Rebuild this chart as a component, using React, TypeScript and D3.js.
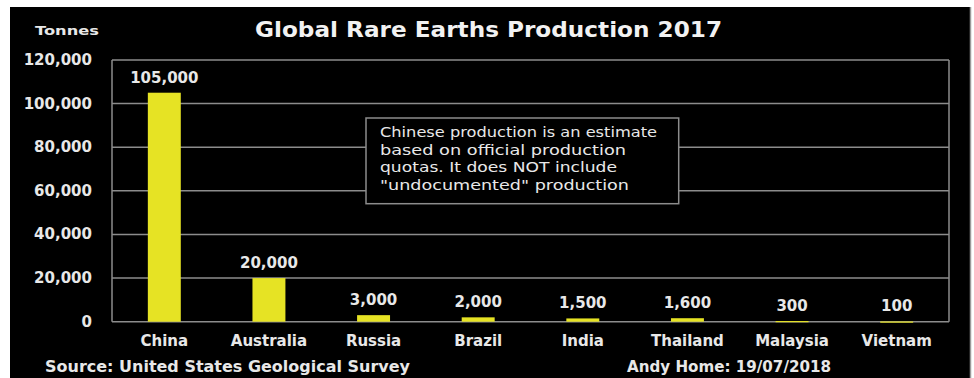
import React from "react";
import * as d3 from "d3";

const categories = ["China", "Australia", "Russia", "Brazil", "India", "Thailand", "Malaysia", "Vietnam"];
const values = [105000, 20000, 3000, 2000, 1500, 1600, 300, 100];
const valueLabels = ["105,000", "20,000", "3,000", "2,000", "1,500", "1,600", "300", "100"];
const yTicks = [0, 20000, 40000, 60000, 80000, 100000, 120000];
const noteLines = [
  "Chinese production is an estimate",
  "based on official production",
  "quotas. It does NOT include",
  "\"undocumented\" production",
];
const noteWidths = [277, 246, 237, 249];

const W = 974;
const H = 378;
const plot = { left: 112, right: 949, top: 60, bottom: 321.7 };
const font = "'DejaVu Sans', Verdana, sans-serif";

export default function App() {
  const x = d3
    .scaleBand<string>()
    .domain(categories)
    .range([plot.left, plot.right])
    .paddingInner(0.685)
    .paddingOuter(0.3425);
  const y = d3.scaleLinear().domain([0, 120000]).range([plot.bottom, plot.top]);
  const fmt = d3.format(",");

  return (
    <svg
      width={W}
      height={H}
      style={{ position: "absolute", left: 0, top: 0, background: "#fff" }}
      fontFamily={font}
    >
      <rect x={10} y={7} width={960} height={371} fill="#000" />
      <line x1={970.5} x2={970.5} y1={7} y2={378} stroke="#9a9a9a" strokeWidth={1.5} />

      <text x={35} y={35} fill="#e8e8e8" fontWeight="bold" fontSize={13} textLength={64} lengthAdjust="spacingAndGlyphs">
        Tonnes
      </text>
      <text x={255} y={37} fill="#f2f2f2" fontWeight="bold" fontSize={21} textLength={467} lengthAdjust="spacingAndGlyphs">
        Global Rare Earths Production 2017
      </text>

      {/* gridlines */}
      {yTicks.map((t) => (
        <line
          key={t}
          x1={plot.left}
          x2={plot.right}
          y1={y(t)}
          y2={y(t)}
          stroke="#8c8c8c"
          strokeWidth={1.5}
        />
      ))}
      <line x1={plot.left} x2={plot.left} y1={plot.top} y2={plot.bottom} stroke="#8c8c8c" strokeWidth={1.5} />
      <line x1={plot.right} x2={plot.right} y1={plot.top} y2={plot.bottom} stroke="#8c8c8c" strokeWidth={1.5} />

      {/* y tick labels */}
      {yTicks.map((t) => (
        <text
          key={t}
          x={92}
          y={y(t) + 5}
          textAnchor="end"
          fill="#e8e8e8"
          fontWeight="bold"
          fontSize={15}
        >
          {fmt(t)}
        </text>
      ))}

      {/* annotation */}
      <rect x={366} y={118} width={312.7} height={85.7} fill="#000" stroke="#8c8c8c" strokeWidth={1.5} />
      {noteLines.map((l, i) => (
        <text
          key={i}
          x={380}
          y={137 + i * 17.7}
          fill="#e8e8e8"
          fontSize={14}
          textLength={noteWidths[i]}
          lengthAdjust="spacingAndGlyphs"
        >
          {l}
        </text>
      ))}

      {/* bars */}
      {categories.map((c, i) => (
        <rect
          key={c}
          x={x(c)}
          y={y(values[i])}
          width={x.bandwidth()}
          height={Math.max(plot.bottom - y(values[i]), 1.2)}
          fill="#e6e324"
        />
      ))}
      {categories.map((c, i) => (
        <text
          key={c}
          x={(x(c) as number) + x.bandwidth() / 2}
          y={Math.min(y(values[i]) - 10, 312)}
          textAnchor="middle"
          fill="#e8e8e8"
          fontWeight="bold"
          fontSize={15}
        >
          {valueLabels[i]}
        </text>
      ))}

      {/* x labels */}
      {categories.map((c) => (
        <text
          key={c}
          x={(x(c) as number) + x.bandwidth() / 2}
          y={346}
          textAnchor="middle"
          fill="#e8e8e8"
          fontWeight="bold"
          fontSize={15}
        >
          {c}
        </text>
      ))}

      <text x={45} y={372} fill="#e8e8e8" fontWeight="bold" fontSize={15} textLength={365} lengthAdjust="spacingAndGlyphs">
        Source: United States Geological Survey
      </text>
      <text x={627} y={372} fill="#e8e8e8" fontWeight="bold" fontSize={15} textLength={204} lengthAdjust="spacingAndGlyphs">
        Andy Home: 19/07/2018
      </text>
    </svg>
  );
}
